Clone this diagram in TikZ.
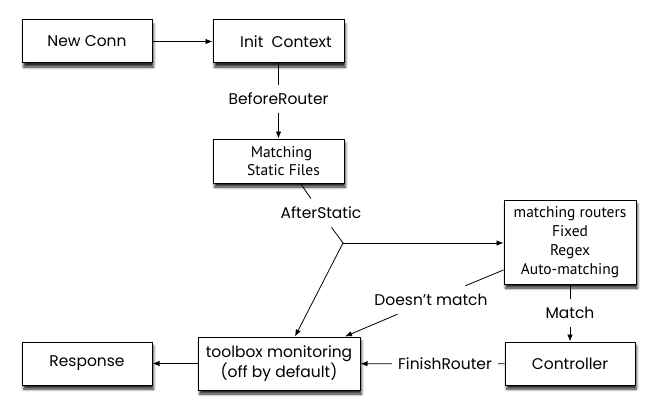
\documentclass[tikz,border=0pt]{standalone}
\usepackage{fontspec}
\setmainfont{Poppins}
\newfontfamily\ptsans{PT Sans}
\usetikzlibrary{arrows.meta,shadows.blur}
\tikzset{
	box/.style={draw, line width=1pt, fill=white, minimum width=130pt, minimum height=43pt, align=center,
		font=\fontsize{15.5}{20}\selectfont,
		blur shadow={shadow xshift=1.5pt, shadow yshift=-4pt, shadow blur radius=2.5pt, shadow opacity=85}},
	lbl/.style={inner xsep=6pt, inner ysep=8pt, font=\fontsize{15.5}{17}\selectfont},
	flow/.style={-{Latex[length=7pt,width=5.5pt]}}
}

\begin{document}
\begin{tikzpicture}[x=1pt, y=-1pt, line width=0.8pt]
		\useasboundingbox (0,0) rectangle (654,412);
		%boxes
		\node[box] (newconn) at (87, 41.5){New Conn};
		\node[box, minimum width=131pt] (init) at (278.5, 41.5){\hspace*{15pt}Init~~Context};
		\node[box, minimum width=131pt, minimum height=44pt, font=\ptsans\fontsize{15.5}{18}\selectfont] (static) at (278.5, 161){\hspace*{6pt}Matching\\\hspace*{10pt}Static Files};
		\node[box, minimum width=132pt, minimum height=84pt, font=\ptsans\fontsize{15.5}{19}\selectfont] (routers) at (570, 242){matching routers\\Fixed\\Regex\\Auto-matching};
		\node[box] (ctrl) at (570, 363.5){Controller};
		\node[box, minimum width=162pt, minimum height=53pt] (toolbox) at (279, 363.5){toolbox monitoring\\(off by default)};
		\node[box] (response) at (87, 363.5){Response};
		
		%labels
		\node[lbl] (before) at (278.5, 99){BeforeRouter};
		\node[lbl] (after) at (321, 213){AfterStatic};
		\node[lbl] (nomatch) at (431, 300){Doesn’t match};
		\node[lbl] (match) at (570, 313){Match};
		\node[lbl] (finish) at (445, 364){FinishRouter};
		\coordinate (split) at (343, 243);
		
		%connectors
		\draw[flow] (newconn) -- (init);
		\draw (init) -- (before);
		\draw[flow] (before) -- (static);
		\draw ([xshift=22pt]static.south) -- (after);
		\draw (after) -- (split);
		\draw[flow] (split) -- (split -| routers.west);
		\draw[flow] (split) -- ([xshift=16pt]toolbox.north);
		\draw ([yshift=-28pt]routers.west) -- (nomatch);
		\draw[flow] (nomatch) -- ([xshift=66pt]toolbox.north);
		\draw (routers) -- (match);
		\draw[flow] (match) -- (ctrl);
		\draw (ctrl) -- (finish);
		\draw[flow] (finish) -- (toolbox);
		\draw[flow] (toolbox) -- (response);
\end{tikzpicture}
\end{document}
